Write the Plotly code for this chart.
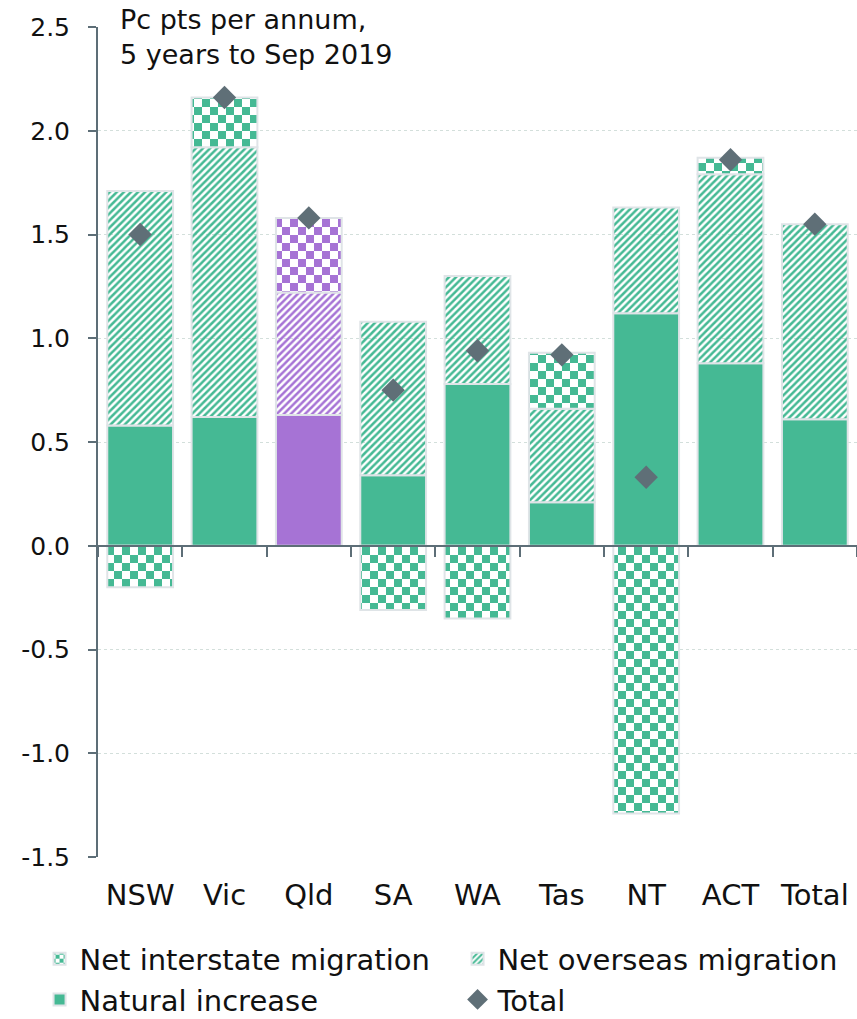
import plotly.graph_objects as go

categories = ["NSW", "Vic", "Qld", "SA", "WA", "Tas", "NT", "ACT", "Total"]
natural = [0.58, 0.62, 0.63, 0.34, 0.78, 0.21, 1.12, 0.88, 0.61]
overseas = [1.13, 1.30, 0.59, 0.74, 0.52, 0.45, 0.51, 0.91, 0.94]
interstate = [-0.20, 0.24, 0.36, -0.31, -0.35, 0.27, -1.29, 0.08, None]
total = [1.50, 2.16, 1.58, 0.75, 0.94, 0.92, 0.33, 1.86, 1.55]
ytickvals = [-1.5, -1.0, -0.5, 0.0, 0.5, 1.0, 1.5, 2.0, 2.5]
yticktext = ["-1.5", "-1.0", "-0.5", "0.0", "0.5", "1.0", "1.5", "2.0", "2.5"]

GREEN = "#45B994"
PURPLE = "#A673D5"
DIAMOND = "#5F6F77"
AXIS = "#5D6E77"
OUTLINE = "#DFE4E7"
FONT = "DejaVu Sans"

bar_colors = [PURPLE if c == "Qld" else GREEN for c in categories]

fig = go.Figure()
fig.add_trace(go.Bar(
    x=categories, y=natural, name="Natural increase", legendrank=3,
    marker=dict(color=bar_colors, line=dict(color=OUTLINE, width=2)),
))
fig.add_trace(go.Bar(
    x=categories, y=overseas, name="Net overseas migration", legendrank=2,
    marker=dict(color=bar_colors, line=dict(color=OUTLINE, width=2),
                pattern=dict(shape="/", size=5, solidity=0.5, fgcolor=bar_colors,
                             bgcolor="white", fillmode="replace")),
))
fig.add_trace(go.Bar(
    x=categories, y=interstate, name="Net interstate migration", legendrank=1,
    uid="interstate",
    marker=dict(color=bar_colors, line=dict(color=OUTLINE, width=2),
                pattern=dict(shape="+", size=16, solidity=0.5, fgcolor=bar_colors,
                             bgcolor="white", fillmode="replace")),
))
fig.add_trace(go.Scatter(
    x=categories, y=total, name="Total", legendrank=4, mode="markers",
    xaxis="x2", yaxis="y",
    marker=dict(symbol="diamond", size=18, color=DIAMOND),
))

fig.update_layout(
    width=857, height=1019,
    margin=dict(l=98, r=0, t=27, b=162, autoexpand=False),
    paper_bgcolor="white", plot_bgcolor="white",
    barmode="relative", bargap=0.22,
    font=dict(family=FONT, color="#111111", size=26),
    showlegend=True,
    legend=dict(orientation="h", xref="paper", yref="paper",
                x=-0.077, y=-0.092, xanchor="left", yanchor="top",
                entrywidth=373, entrywidthmode="pixels",
                font=dict(size=29, family=FONT, color="#111111"),
                traceorder="normal", itemwidth=30),
    xaxis=dict(type="category", range=[-0.5, 8.5], showline=False, ticks="",
               showgrid=False, tickfont=dict(size=29), ticklabelstandoff=18,
               automargin=False),
    xaxis2=dict(type="category", range=[-0.5, 8.5], overlaying="x", anchor="free",
                position=0.375, showline=True, linecolor=AXIS, linewidth=2,
                ticks="outside", ticklen=10, tickwidth=2, tickcolor=AXIS,
                tickson="boundaries", showticklabels=False, showgrid=False,
                automargin=False),
    yaxis=dict(range=[-1.5, 2.5], tickvals=ytickvals, ticktext=yticktext,
               showline=True, linecolor=AXIS, linewidth=2,
               ticks="outside", ticklen=8, tickwidth=2, tickcolor=AXIS,
               showgrid=True, gridcolor="#D3DFDB", gridwidth=1, griddash="dot",
               zeroline=False, tickfont=dict(size=25), ticklabelstandoff=13,
               automargin=False),
    annotations=[dict(text="Pc pts per annum,<br>5 years to Sep 2019",
                      xref="paper", yref="paper", x=0.026, y=1.03,
                      xanchor="left", yanchor="top", align="left",
                      showarrow=False, font=dict(size=27, family=FONT, color="#111111"))],
)

post_js = """
(function(){
  document.body.style.margin = '0';
  document.body.style.padding = '0';
  var gd = document.getElementById('{plot_id}');
  var NS = 'http://www.w3.org/2000/svg';
  function fix(){
    var pats = document.querySelectorAll('pattern');
    pats.forEach(function(p){
      if(p.id.indexOf('interstate') < 0) return;
      if(p.getAttribute('data-checker')) return;
      var w = parseFloat(p.getAttribute('width')) || 16;
      var h = parseFloat(p.getAttribute('height')) || 16;
      var sh = p.querySelector('path, circle');
      var col = null;
      if(sh){ col = sh.getAttribute('stroke') || sh.style.stroke || sh.getAttribute('fill') || sh.style.fill; }
      if(!col || col === 'none') col = '#45B994';
      while(p.firstChild) p.removeChild(p.firstChild);
      var bg = document.createElementNS(NS, 'rect');
      bg.setAttribute('x', 0); bg.setAttribute('y', 0);
      bg.setAttribute('width', w); bg.setAttribute('height', h);
      bg.setAttribute('fill', '#ffffff');
      p.appendChild(bg);
      [[0,0],[w/2,h/2]].forEach(function(o){
        var r = document.createElementNS(NS, 'rect');
        r.setAttribute('x', o[0]); r.setAttribute('y', o[1]);
        r.setAttribute('width', w/2); r.setAttribute('height', h/2);
        r.setAttribute('fill', col);
        p.appendChild(r);
      });
      p.setAttribute('data-checker', '1');
    });
  }
  fix();
  setTimeout(fix, 50);
  setTimeout(fix, 300);
  if(gd && gd.on) gd.on('plotly_afterplot', fix);
})();
"""

fig.write_html("out.html", post_script=post_js, config={"displayModeBar": False})
